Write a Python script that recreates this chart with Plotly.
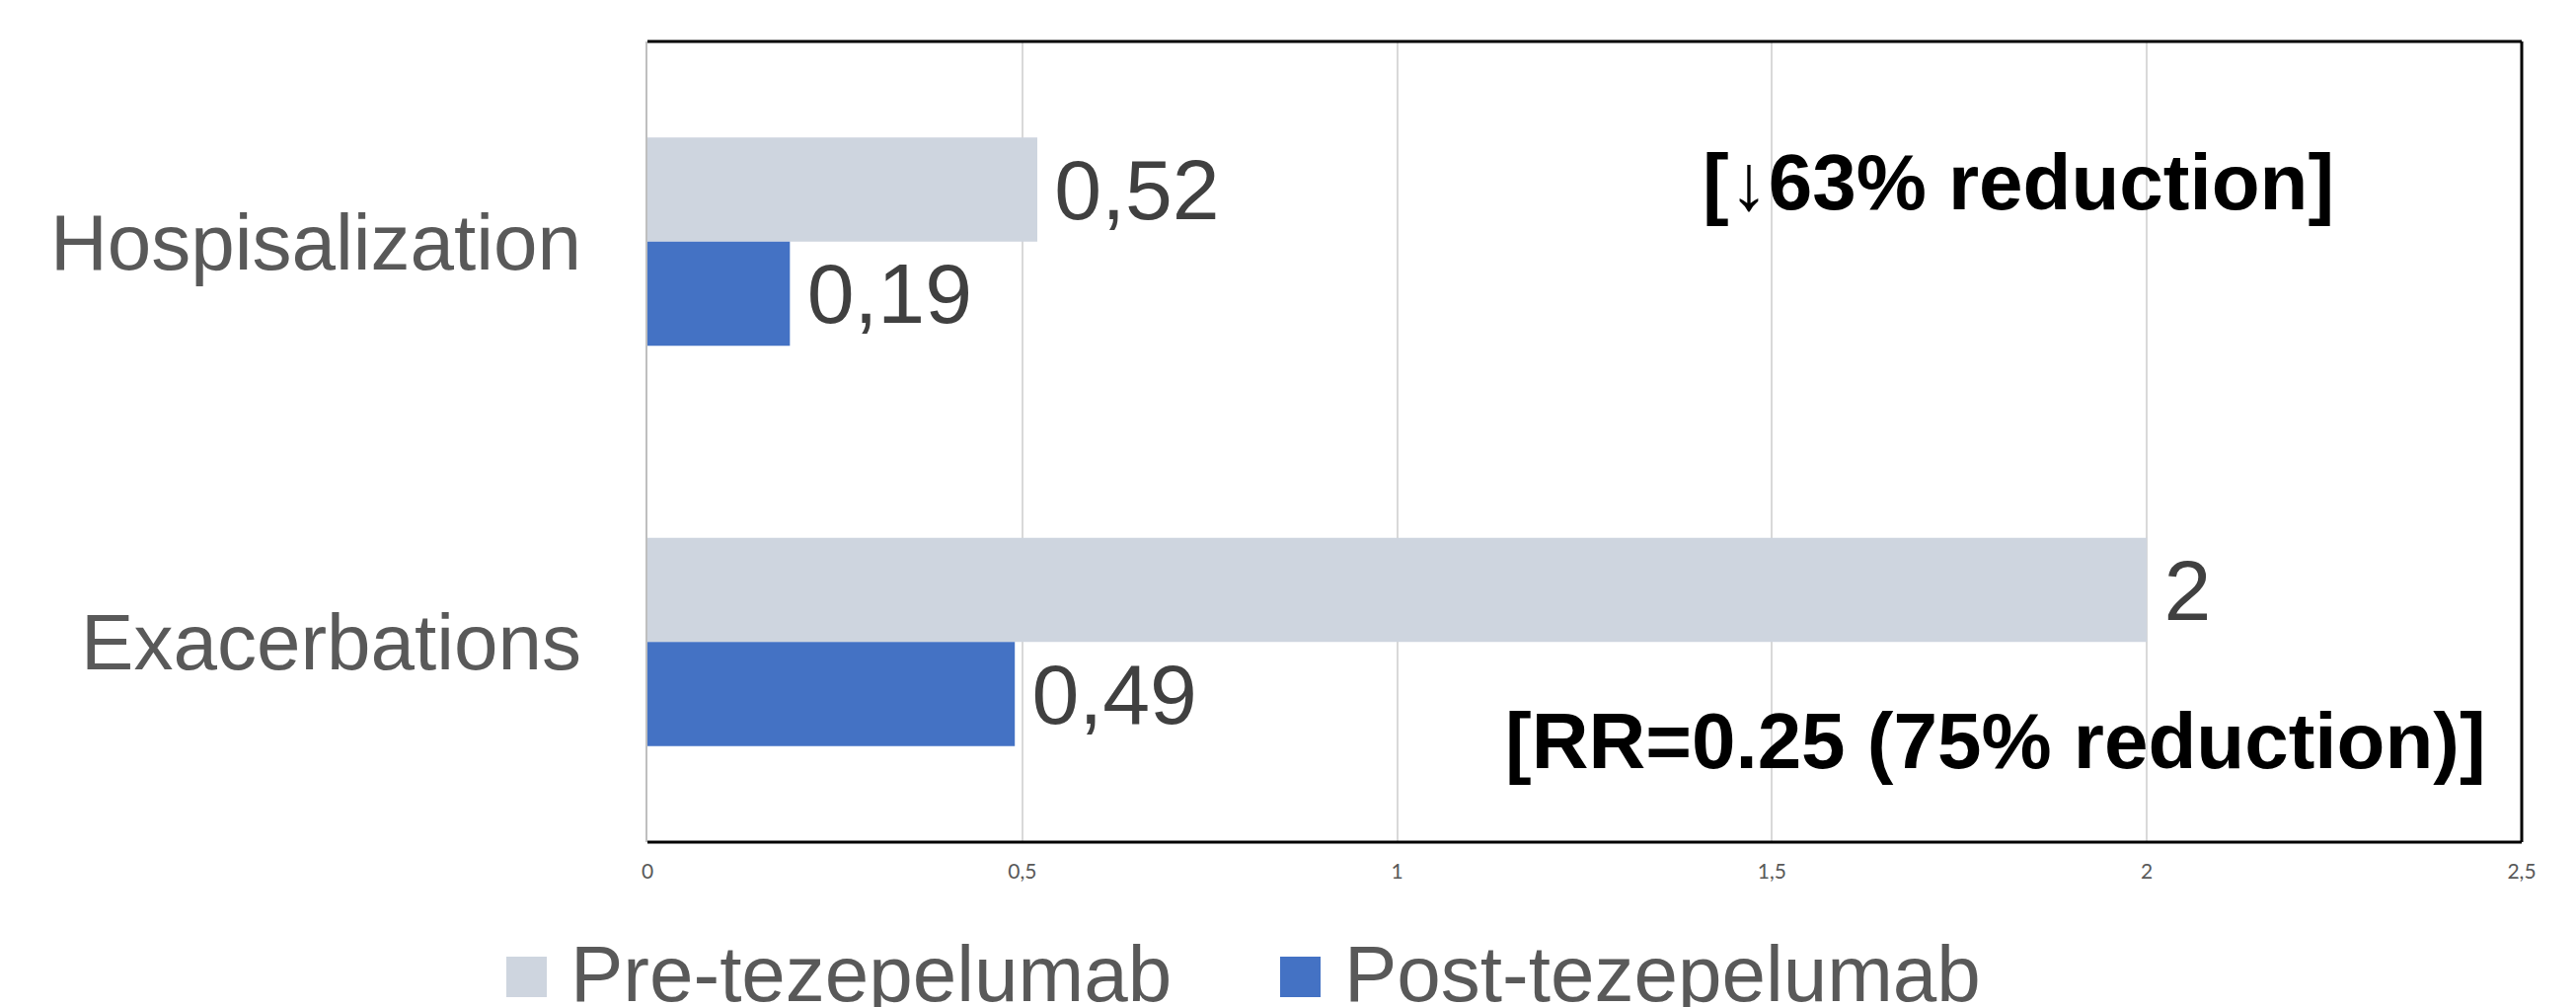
import plotly.graph_objects as go

categories = ["Hospisalization", "Exacerbations"]
series_names = ["Pre-tezepelumab", "Post-tezepelumab"]
pre_values = [0.52, 2]
post_values = [0.19, 0.49]
tick_vals = [0, 0.5, 1, 1.5, 2, 2.5]
tick_text = ["0", "0,5", "1", "1,5", "2", "2,5"]
annotations_text = ["[\u219363% reduction]", "[RR=0.25 (75% reduction)]"]

colors = ["#CED5DF", "#4472C4"]
W, H = 2610, 1020
L, T = 656, 42
PW, PH = 1899, 811
R = W - L - PW
B = H - T - PH


def fmt(v):
    return "\u2006" + f"{v:g}".replace(".", ",")


def px_x(px):
    return (px - L) / PW


def px_y(py):
    return 1 - (py - T) / PH


fig = go.Figure()
for name, vals, col in zip(series_names, [pre_values, post_values], colors):
    fig.add_trace(go.Bar(
        y=categories, x=vals, name=name, orientation="h",
        marker=dict(color=col, line=dict(width=0)),
        text=[fmt(v) for v in vals], textposition="outside",
        textfont=dict(family="Liberation Sans, Arial", size=86, color="#404040"),
        constraintext="none", cliponaxis=False, showlegend=False,
        hoverinfo="skip",
    ))

fig.update_layout(
    width=W, height=H,
    margin=dict(l=L, r=R, t=T, b=B),
    paper_bgcolor="white", plot_bgcolor="white",
    barmode="group", bargap=0.48, bargroupgap=0,
    xaxis=dict(range=[0, 2.5], tickvals=tick_vals, ticktext=tick_text,
               showgrid=True, gridcolor="#D9D9D9", gridwidth=2,
               zeroline=False, showline=False, ticks="",
               tickfont=dict(family="Lato, Calibri", size=21, color="#595959"),
               ticklabelstandoff=15),
    yaxis=dict(autorange="reversed", showgrid=False, zeroline=False,
               showline=True, linecolor="#BFBFBF", linewidth=2, ticks="",
               tickfont=dict(family="Liberation Sans, Arial", size=80, color="#595959"),
               ticklabelstandoff=49),
    font=dict(family="Liberation Sans, Arial"),
)

# plot-area border: top, right, bottom in black
for x0, x1, y0, y1 in [(0, 1, 1, 1), (1, 1, 0, 1), (0, 1, 0, 0)]:
    fig.add_shape(type="line", xref="paper", yref="paper", x0=x0, x1=x1, y0=y0, y1=y1,
                  line=dict(color="#000000", width=3))

fig.add_annotation(x=px_x(2045), y=px_y(184), xref="paper", yref="paper",
                   xanchor="center", yanchor="middle",
                   text="<b>" + annotations_text[0] + "</b>", showarrow=False,
                   font=dict(family="Liberation Sans, Arial", size=80, color="#000000"))
fig.add_annotation(x=px_x(1523), y=px_y(750), xref="paper", yref="paper",
                   xanchor="left", yanchor="middle",
                   text="<b>" + annotations_text[1] + "</b>", showarrow=False,
                   font=dict(family="Liberation Sans, Arial", size=80, color="#000000"))

# manual legend
legend_items = [(513, 554, 576), (1297, 1338, 1360)]
for (sx0, sx1, tx), name, col in zip(legend_items, series_names, colors):
    fig.add_shape(type="rect", xref="paper", yref="paper",
                  x0=px_x(sx0), x1=px_x(sx1), y0=px_y(1010), y1=px_y(969),
                  fillcolor=col, line=dict(width=0))
    fig.add_annotation(x=px_x(tx), y=px_y(986), xref="paper", yref="paper",
                       xanchor="left", yanchor="middle", text=name, showarrow=False,
                       font=dict(family="Liberation Sans, Arial", size=80, color="#595959"))

fig.write_html("out.html", config={"displayModeBar": False},
               post_script="document.body.style.margin='0px';")
